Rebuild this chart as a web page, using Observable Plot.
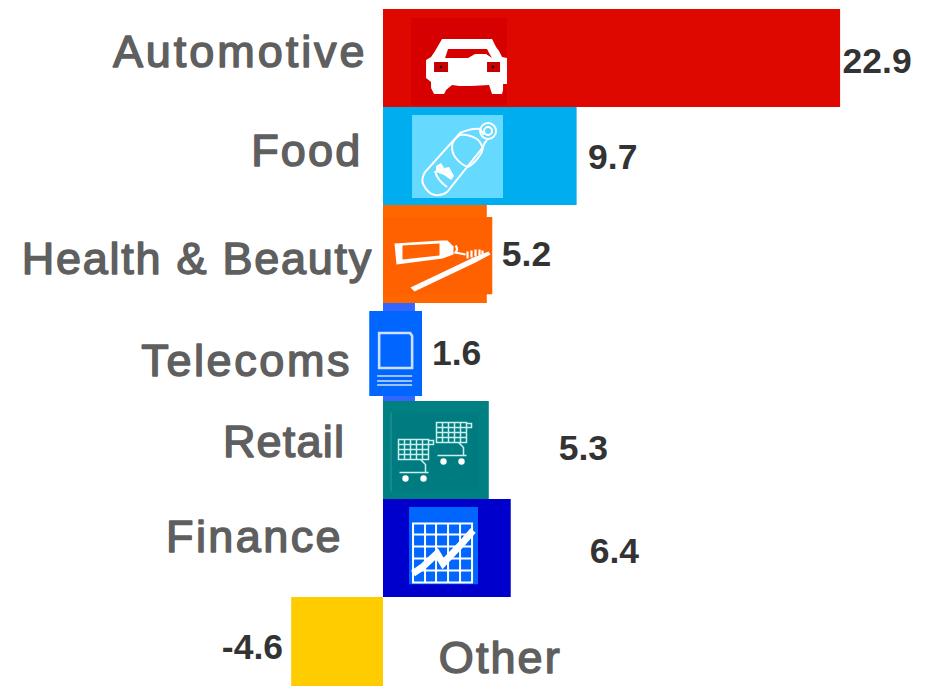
<!DOCTYPE html>
<html><head><meta charset="utf-8">
<style>html,body{margin:0;padding:0;background:#fff}svg{display:block}
.c0 text{letter-spacing:2.95px}.c1 text{letter-spacing:2.2px}.c2 text{letter-spacing:1.75px}.c3 text{letter-spacing:2.6px}.c4 text{letter-spacing:1.2px}.c5 text{letter-spacing:2.4px}.c6 text{letter-spacing:2.1px}</style>
<script src="https://cdn.jsdelivr.net/npm/d3@7"></script>
<script src="https://cdn.jsdelivr.net/npm/@observablehq/plot@0.6"></script>
</head><body><div id="chart"></div>
<script>
const categories = ["Automotive","Food","Health & Beauty","Telecoms","Retail","Finance","Other"];
const values = [22.9,9.7,5.2,1.6,5.3,6.4,-4.6];
const valueLabels = ["22.9","9.7","5.2","1.6","5.3","6.4","-4.6"];
const barColors = ["#de0800","#00adee","#ff6600","#3366ff","#008080","#0000cc","#ffcc00"];

const rows = categories.map((c,i)=>({c, v:values[i], t:valueLabels[i], col:barColors[i]}));
const W=935,H=686,ppu=19.96,x0=383;
const svg = s => "data:image/svg+xml," + encodeURIComponent(s);
const wrap = (w,h,bg,body) => svg(`<svg xmlns="http://www.w3.org/2000/svg" width="${w}" height="${h}" viewBox="0 0 ${w} ${h}"><rect width="${w}" height="${h}" fill="${bg}"/><g fill="none" stroke="#fff">${body}</g></svg>`);

const car = wrap(96,87,"#d60000",`<path fill="#fff" stroke="none" d="M31 21H81L85 29L88 33L91 39L96 40V66H92V72L91 76H81L78 67L60 68H48L41 67L35 72L33 76H23L20 70V64L15 60V42L20 39L24 33Z"/>
<path fill="#d60000" stroke="none" d="M37 31H76L78 35L81 40L75 36H64L57 40H34Z"/>
<rect x="23" y="44" width="14" height="10" fill="#c40000" stroke="none"/><rect x="76" y="44" width="13" height="10" fill="#c40000" stroke="none"/>
<circle cx="30" cy="49" r="1.3" fill="#300" stroke="none"/><circle cx="82" cy="49" r="1.3" fill="#300" stroke="none"/>`);
const bottle = wrap(91,83,"#66d9ff",`<g stroke-width="2"><path d="M68 14 Q60 13 48 18 L13 57 Q9 64 11 69 Q16 79 23 80 Q30 81 35 77 L71 32 Q72 28 75 25"/>
<circle cx="76" cy="16" r="8"/><circle cx="76" cy="16" r="4"/><path d="M68 14 L72 20"/>
<path d="M48 20 Q40 25 40 32 Q40 38 43 42 Q49 50 56 52 Q63 48 68 40 Q72 34 70 31 Q68 26 65 24 Q56 19 48 20Z"/><path d="M23 56 Q25 65 35 72"/></g>
<path fill="#fff" stroke="none" d="M24 51L29 48L32 53L37 52L42 61L39 65L32 60L24 57Z"/>`);
const paste = wrap(109,78,"#ff6000",`<path fill="#fff" stroke="none" d="M11 27L58 24L64 24L70 30V38L59 42L13 48Z"/>
<path fill="#ff6000" stroke="none" d="M19 29L56 27L56 39L19 43Z"/>
<path fill="#fff" stroke="none" d="M27 71L90 41L105 35L107 38L92 46L31 75Z"/>
<path stroke-width="2.2" d="M72 29Q75 33 72 36L82 38M84 35V42M88 34V41M92 33V40M96 33V39M99 34V38"/>`);
const phone = wrap(53,85,"#0066ff",`<g stroke="#cfe0ff"><path stroke-width="2.6" d="M10 22H41L43 25V57H10Z"/><path stroke-width="1.7" d="M8 65H43M8 70H43M8 74H43"/></g>`);
const cart = (ox,oy) => `<g transform="translate(${ox},${oy})" stroke="#c8f0ec"><path stroke-width="1.5" d="M0 0H30V20H0ZM0 5H30M0 10H30M0 15H30M6 0V20M12 0V20M18 0V20M24 0V20M30 1H35V5H30M22 20L27 25V33M1 33H30"/><circle cx="7" cy="39" r="3.2" fill="#fff" stroke="none"/><circle cx="25" cy="39" r="3.2" fill="#fff" stroke="none"/></g>`;
const carts = wrap(100,88,"#008080",`<rect x="7" y="6" width="88" height="79" fill="#007b80" stroke="none"/><path d="M7.5 6V85" stroke="#2a9a9a" stroke-width="1"/>`+cart(15,33)+cart(53,16));
const fin = wrap(69,78,"#0066ff",`<g stroke-width="2"><path d="M4 17H63V76H4ZM4 28H63M4 40H63M4 52H63M4 64H63M16 17V76M27 17V76M39 17V76M51 17V76"/></g><path stroke-width="7" d="M4 67L14 60L28 47L34 57L53 37L64 24"/>`);

const icons = [
  {c:categories[0], src:car, w:96, h:87, v:1.38, dy:3},
  {c:categories[1], src:bottle, w:91, h:83, v:1.43, dy:0},
  {c:categories[2], src:paste, w:109, h:78, v:0, dy:1},
  {c:categories[3], src:phone, w:53, h:85, v:-0.72, dy:1},
  {c:categories[4], src:carts, w:100, h:88, v:0, dy:0},
  {c:categories[5], src:fin, w:69, h:78, v:1.28, dy:-3},
];
const labelMarks = [
  {c:categories[0], anchor:"end", v:-0.8, dy:-6},
  {c:categories[1], anchor:"end", v:-1.05, dy:-5},
  {c:categories[2], anchor:"end", v:-0.52, dy:5},
  {c:categories[3], anchor:"end", v:-1.57, dy:9},
  {c:categories[4], anchor:"end", v:-1.92, dy:-8},
  {c:categories[5], anchor:"end", v:-2.03, dy:-11},
  {c:categories[6], anchor:"start", v:2.77, dy:12},
];
const valuePos = [
  {c:categories[0], v:23.0, dy:3, t:valueLabels[0]},
  {c:categories[1], v:10.25, dy:1, t:valueLabels[1]},
  {c:categories[2], v:5.93, dy:0, t:valueLabels[2]},
  {c:categories[3], v:2.43, dy:1.5, t:valueLabels[3]},
  {c:categories[4], v:8.78, dy:-2, t:valueLabels[4]},
  {c:categories[5], v:10.33, dy:3, t:valueLabels[5]},
  {c:categories[6], v:-8.1, dy:1, t:valueLabels[6]},
];

const chart = Plot.plot({
  width:W, height:H, margin:0,
  style:{background:"#fff", overflow:"hidden"},
  x:{domain:[-x0/ppu,(W-x0)/ppu], range:[0,W], axis:null},
  y:{domain:categories, range:[7.2,696.2], padding:0, axis:null},
  marks:[
    Plot.barX(rows,{x1:0,x2:"v",y:"c",fill:"col",inset:0}),
    ...icons.map(d=>Plot.image([d],{x:"v",y:"c",src:"src",width:d.w,height:d.h,preserveAspectRatio:"none",dx:d.w/2,dy:d.dy})),
    ...labelMarks.map((d,i)=>Plot.text([d],{x:"v",y:"c",text:"c",textAnchor:d.anchor,dy:d.dy,fontSize:45,fontWeight:400,fontFamily:"'Liberation Sans'",fill:"#5f5f5f",stroke:"#5f5f5f",strokeWidth:1.5,className:"c"+i})),
    ...valuePos.map(d=>Plot.text([d],{x:"v",y:"c",text:"t",textAnchor:"start",dy:d.dy,fontSize:35.5,fontWeight:700,fontFamily:"'Liberation Sans'",fill:"#333333"})),
  ]
});
document.getElementById("chart").append(chart);
</script></body></html>
